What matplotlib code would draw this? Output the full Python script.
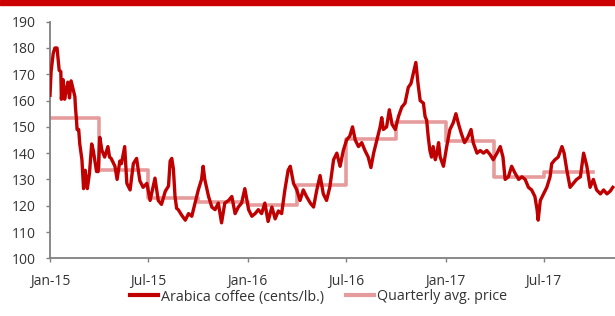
import matplotlib
matplotlib.use("Agg")
import matplotlib.pyplot as plt
import matplotlib.dates as mdates
from matplotlib.patches import Rectangle
import pandas as pd

plt.rcParams['font.family'] = ['Open Sans', 'DejaVu Sans']

# Arabica coffee price, days since 2015-01-01 and cents/lb.
day_offsets = [0, 2, 6, 9, 13, 17, 20, 21, 24, 27, 30, 33, 36, 39, 43, 46, 47, 49, 50, 53,
               55, 59, 62, 65, 69, 73, 77, 80, 86, 89, 92, 96, 101, 107, 110, 113, 120, 124,
               129, 132, 138, 142, 148, 154, 160, 166, 172, 179, 185, 194, 200, 206, 213,
               219, 222, 225, 228, 231, 234, 237, 243, 250, 256, 262, 268, 274, 280, 283,
               286, 293, 299, 305, 311, 317, 323, 330, 336, 342, 348, 354, 360, 367, 373,
               379, 385, 391, 397, 403, 410, 416, 422, 428, 434, 440, 444, 450, 456, 462,
               468, 474, 481, 487, 493, 499, 505, 511, 517, 524, 530, 536, 542, 548, 554,
               559, 564, 570, 576, 582, 588, 593, 598, 604, 610, 613, 616, 622, 627, 632,
               638, 644, 650, 656, 662, 667, 671, 676, 680, 684, 690, 693, 696, 699, 702,
               705, 708, 712, 715, 718, 721, 727, 733, 739, 745, 750, 755, 760, 766, 772,
               778, 782, 789, 795, 801, 807, 813, 819, 826, 832, 837, 841, 847, 853, 859,
               866, 872, 878, 884, 890, 896, 900, 902, 906, 912, 918, 924, 927, 933, 939,
               946, 950, 955, 961, 967, 973, 980, 986, 992, 998, 1004, 1010, 1017, 1023,
               1029, 1035, 1040]
arabica = [162, 171, 178, 180, 180, 171.5, 171, 160.5, 168, 160.5, 164, 167, 161, 167.5, 164,
           161.5, 157.5, 152.5, 149, 149, 143.5, 137.5, 126.5, 133.5, 126.5, 132.5, 143.5,
           141, 133, 133, 146, 141, 138.5, 142.5, 138.5, 138, 135, 130, 137, 136, 142.5,
           128.5, 126, 136, 138, 129.5, 127, 128.5, 122, 130.5, 122, 120.5, 125.5, 127.5,
           137, 138, 134, 123.5, 119, 118.5, 116.5, 114.5, 117, 116, 121, 126, 130, 135,
           130, 123.5, 119.5, 118.5, 121, 113.5, 121, 122, 123.5, 117, 119.5, 121, 126.5,
           118.5, 116, 117, 118.5, 117, 121, 114, 119.5, 115, 118, 117, 126, 133.5, 135,
           128.5, 126, 122, 126, 123.5, 121, 119.5, 126, 131.5, 124.5, 122, 127, 137.5,
           140, 135, 141, 145, 146.5, 150, 145, 142.5, 144, 141, 138.5, 134.5, 140, 145,
           150, 153.5, 149, 150, 156.5, 151, 149, 154, 157.5, 159, 165, 166.5, 170, 174.5,
           166.5, 160, 159, 154, 152.5, 146, 141, 138.5, 142.5, 137.5, 140, 144, 138.5,
           135, 142.5, 149, 151.5, 155, 151, 147.5, 144, 146, 149, 144, 140, 141, 140, 141,
           139.5, 137.5, 140, 142.5, 138.5, 130, 131, 135, 132.5, 130, 131, 130, 127, 126,
           123.5, 118.5, 114.5, 122, 124.5, 127, 131, 136, 137.5, 138.5, 142.5, 140, 133.5,
           127, 128.5, 130, 131, 140, 135, 127, 130, 126, 124.5, 126, 124.5, 125.5, 127]

# Quarterly average price (cents/lb.)
quarters = ['2015-01-01', '2015-04-01', '2015-07-01', '2015-10-01', '2016-01-01',
            '2016-04-01', '2016-07-01', '2016-10-01', '2017-01-01', '2017-04-01',
            '2017-07-01', '2017-10-01']
quarterly_avg = [153.2, 133.6, 122.8, 121.5, 120.1, 127.9, 145.5, 151.7, 144.8, 131.0,
                 132.8, 132.8]

tick_dates = ['2015-01-01', '2015-07-01', '2016-01-01', '2016-07-01', '2017-01-01',
              '2017-07-01']

start = pd.Timestamp('2015-01-01')
dates = start + pd.to_timedelta(day_offsets, unit='D')
q_dates = pd.to_datetime(quarters)

fig = plt.figure(figsize=(6.15, 3.16), dpi=100)
ax = fig.add_axes([0.0813, 0.1826, 0.9187, 0.7487])

dark_red = '#C00000'
pink = '#E69C9C'
grey = '#808080'
text_c = '#333333'

ax.plot(q_dates, quarterly_avg, drawstyle='steps-post', color=pink, lw=2.6,
        label='Quarterly avg. price', zorder=2)
ax.plot(dates, arabica, color=dark_red, lw=2.4, label='Arabica coffee (cents/lb.)',
        zorder=3, solid_joinstyle='round')

ax.set_ylim(100, 190)
ax.set_yticks(range(100, 191, 10))
ax.set_xlim(start, start + pd.Timedelta(days=1044))
ax.set_xticks(pd.to_datetime(tick_dates))
ax.xaxis.set_major_formatter(mdates.DateFormatter('%b-%y'))

for s in ['top', 'right']:
    ax.spines[s].set_visible(False)
for s in ['left', 'bottom']:
    ax.spines[s].set_color(grey)
    ax.spines[s].set_linewidth(1.3)
ax.tick_params(axis='both', colors=grey, labelcolor=text_c, labelsize=10, width=1.0,
               length=3)
ax.tick_params(axis='y', pad=7)
ax.tick_params(axis='x', pad=8)

# top red band
fig.patches.append(Rectangle((0, 1 - 4.5 / 316), 1, 4.5 / 316, transform=fig.transFigure,
                             color='#CC0000', zorder=10))

handles, labels = ax.get_legend_handles_labels()
leg = fig.legend(handles[::-1], labels[::-1], loc='center', ncol=2,
                 bbox_to_anchor=(0.518, 1 - 297 / 316), frameon=False, fontsize=10.3,
                 handlelength=2.0, handletextpad=0.2, columnspacing=1.5)
for t in leg.get_texts():
    t.set_color(text_c)
for h in leg.legend_handles:
    h.set_linewidth(3)

fig.savefig('out.png', dpi=100)
